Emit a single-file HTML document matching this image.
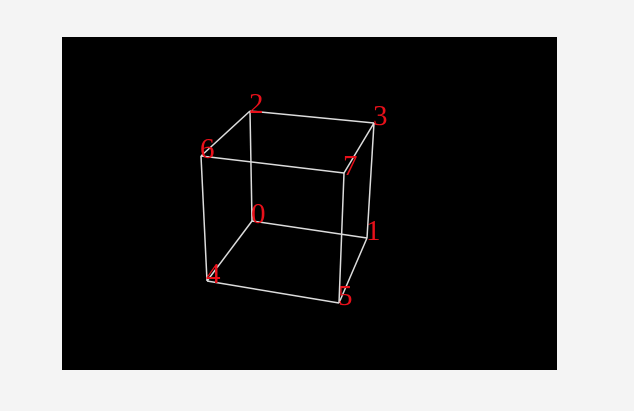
<!DOCTYPE html>
<html><head><meta charset="utf-8"><style>
html,body{margin:0;padding:0;background:#f4f4f4;width:634px;height:411px;overflow:hidden}
svg{position:absolute;left:0;top:0}
</style></head><body>
<svg width="634" height="411">
<rect x="62" y="37" width="495" height="333" fill="#000"/>
<g id="edges"></g><g id="labels"></g>
</svg>
<script>
const vertexIds=[0,1,2,3,4,5,6,7];
const vertexX=[252,367,250,374,207,339,201,344];
const vertexY=[221,238,111,123,281,303,156,173];
const edgeFrom=[0,1,3,2,4,5,7,6,0,1,2,3];
const edgeTo=[1,3,2,0,5,7,6,4,4,5,6,7];
const ns='http://www.w3.org/2000/svg';
const eg=document.getElementById('edges'),lg=document.getElementById('labels');
for(let i=0;i<edgeFrom.length;i++){
 const l=document.createElementNS(ns,'line');
 const a=edgeFrom[i],b=edgeTo[i];
 l.setAttribute('x1',vertexX[a]);l.setAttribute('y1',vertexY[a]);
 l.setAttribute('x2',vertexX[b]);l.setAttribute('y2',vertexY[b]);
 l.setAttribute('stroke','#dcdcdc');l.setAttribute('stroke-width','1.5');
 
 
 eg.appendChild(l);
}
for(let i=0;i<vertexIds.length;i++){
 const t=document.createElementNS(ns,'text');
 t.setAttribute('x',vertexX[i]-1);t.setAttribute('y',vertexY[i]+2);
 t.setAttribute('fill','#e8101a');t.setAttribute('font-size','29');
 t.setAttribute('font-family','"Liberation Serif", serif');
 t.textContent=vertexIds[i];
 
 
 lg.appendChild(t);
}
</script>
</body></html>
